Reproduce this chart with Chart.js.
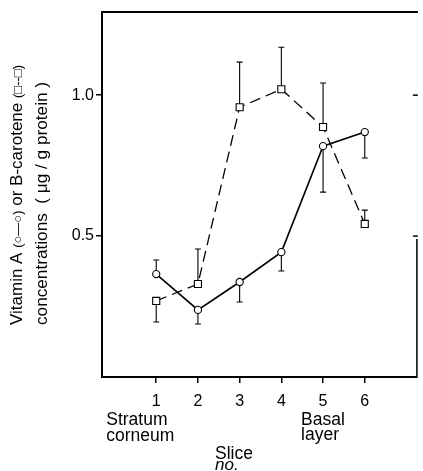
<!DOCTYPE html>
<html>
<head>
<meta charset="utf-8">
<script src="https://cdn.jsdelivr.net/npm/chart.js@4.4.1/dist/chart.umd.min.js"></script>
<style>
  html, body { margin: 0; padding: 0; background: #fff; }
  canvas { display: block; }
</style>
</head>
<body>
<canvas id="c" width="423" height="471"></canvas>
<script>
// ---- data ----
const slices = [1, 2, 3, 4, 5, 6];
const vitaminA = [0.365, 0.238, 0.337, 0.443, 0.819, 0.869];
const vitaminAErrEnd = [0.415, 0.188, 0.266, 0.376, 0.656, 0.777];
const betaCarotene = [0.27, 0.33, 0.957, 1.021, 0.887, 0.543];
const betaErrEnd = [0.195, 0.454, 1.117, 1.17, 1.043, 0.592];
const yTicks = [0.5, 1.0];
const yTitle1 = ['Vitamin A ', '(○—○)', ' or B-carotene ', '(□--□)'];
const yTitle2 = 'concentrations  ( μg / g protein )';

const FONT = "'Liberation Sans', Arial, Helvetica, sans-serif";

const errorBars = {
  id: 'errorBars',
  beforeDatasetsDraw(chart) {
    const ctx = chart.ctx, xs = chart.scales.x, ys = chart.scales.y;
    const sets = [[vitaminA, vitaminAErrEnd], [betaCarotene, betaErrEnd]];
    ctx.save();
    ctx.strokeStyle = '#000';
    ctx.lineWidth = 1.1;
    sets.forEach(([vals, ends]) => {
      slices.forEach((s, i) => {
        const px = xs.getPixelForValue(s);
        const y0 = ys.getPixelForValue(vals[i]);
        const y1 = ys.getPixelForValue(ends[i]);
        ctx.beginPath();
        ctx.moveTo(px, y0); ctx.lineTo(px, y1);
        ctx.moveTo(px - 3, y1); ctx.lineTo(px + 3, y1);
        ctx.stroke();
      });
    });
    ctx.restore();
  }
};

const frameAndText = {
  id: 'frameAndText',
  afterDraw(chart) {
    const ctx = chart.ctx, a = chart.chartArea, xs = chart.scales.x, ys = chart.scales.y;
    ctx.save();
    ctx.strokeStyle = '#000';
    // top border
    ctx.lineWidth = 2;
    ctx.beginPath(); ctx.moveTo(a.left - 1, a.top); ctx.lineTo(a.right + 1, a.top); ctx.stroke();
    // right partial border
    ctx.lineWidth = 1.5;
    ctx.beginPath(); ctx.moveTo(a.right, ys.getPixelForValue(0.49)); ctx.lineTo(a.right, a.bottom); ctx.stroke();
    // right inward ticks
    yTicks.forEach(v => {
      const py = ys.getPixelForValue(v);
      ctx.beginPath(); ctx.moveTo(a.right - 4, py); ctx.lineTo(a.right + 1, py); ctx.stroke();
    });
    ctx.fillStyle = '#000';
    // y title (rotated)
    const drawSegs = (segs, x, y) => {
      ctx.save();
      ctx.translate(x, y);
      ctx.rotate(-Math.PI / 2);
      ctx.textAlign = 'left';
      ctx.textBaseline = 'alphabetic';
      let cx = 0;
      segs.forEach(([t, size]) => {
        ctx.font = size + 'px ' + FONT;
        ctx.fillText(t, cx, 0);
        cx += ctx.measureText(t).width;
      });
      ctx.restore();
    };
    drawSegs([[yTitle1[0], 17], [yTitle1[1], 13], [yTitle1[2], 17], [yTitle1[3], 13]], 22, 325);
    drawSegs([[yTitle2, 17.2]], 47, 325);
    // x annotations
    ctx.textAlign = 'left';
    ctx.textBaseline = 'alphabetic';
    ctx.font = '17.5px ' + FONT;
    const x1 = xs.getPixelForValue(1);
    const x5 = xs.getPixelForValue(5);
    ctx.fillText('Stratum', x1 - 50, 425);
    ctx.fillText('corneum', x1 - 50, 441);
    ctx.fillText('Basal', x5 - 22, 425);
    ctx.fillText('layer', x5 - 22, 440);
    ctx.fillText('Slice', 215, 459);
    ctx.font = 'italic 17px ' + FONT;
    ctx.fillText('no.', 215, 470);
    ctx.restore();
  }
};

new Chart(document.getElementById('c'), {
  type: 'line',
  data: {
    datasets: [
      {
        label: 'Vitamin A',
        data: slices.map((s, i) => ({ x: s, y: vitaminA[i] })),
        borderColor: '#000',
        borderWidth: 1.6,
        pointStyle: 'circle',
        pointRadius: 3.6,
        pointBackgroundColor: '#fff',
        pointBorderColor: '#000',
        pointBorderWidth: 1.1,
        tension: 0
      },
      {
        label: 'B-carotene',
        data: slices.map((s, i) => ({ x: s, y: betaCarotene[i] })),
        borderColor: '#000',
        borderWidth: 1.3,
        borderDash: [11, 6],
        pointStyle: 'rect',
        pointRadius: 5,
        pointBackgroundColor: '#fff',
        pointBorderColor: '#000',
        pointBorderWidth: 1.1,
        tension: 0
      }
    ]
  },
  options: {
    responsive: false,
    animation: false,
    devicePixelRatio: 1,
    layout: { padding: { left: 0, top: 12, right: 1, bottom: 0 } },
    plugins: { legend: { display: false }, tooltip: { enabled: false } },
    scales: {
      x: {
        type: 'linear',
        min: -0.3,
        max: 7.25,
        afterBuildTicks: s => { s.ticks = slices.map(v => ({ value: v })); },
        afterFit: s => { s.height = 94; },
        ticks: {
          color: '#000',
          font: { family: FONT, size: 16 },
          padding: 9,
          maxRotation: 0,
          callback: v => String(v)
        },
        grid: { drawOnChartArea: false, drawTicks: true, tickLength: 6, color: '#000', lineWidth: 1.5 },
        border: { display: true, color: '#000', width: 2 }
      },
      y: {
        type: 'linear',
        min: 0,
        max: 1.295,
        afterBuildTicks: s => { s.ticks = yTicks.map(v => ({ value: v })); },
        afterFit: s => { s.width = 102; },
        ticks: {
          color: '#000',
          font: { family: FONT, size: 16 },
          padding: 2,
          callback: v => v.toFixed(1)
        },
        grid: { drawOnChartArea: false, drawTicks: true, tickLength: 6, color: '#000', lineWidth: 1.5 },
        border: { display: true, color: '#000', width: 2 }
      }
    }
  },
  plugins: [errorBars, frameAndText]
});
</script>
</body>
</html>
